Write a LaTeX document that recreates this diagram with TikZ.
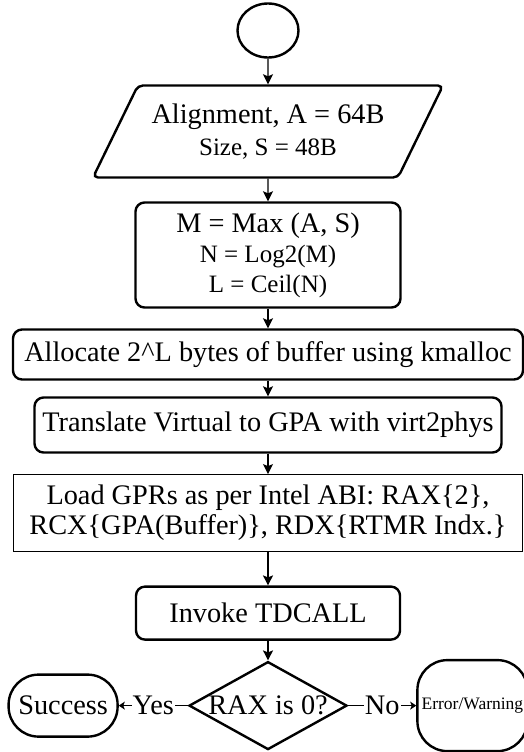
\documentclass[tikz,border=0pt]{standalone}
\usepackage{fontspec}
\setmainfont{Liberation Serif}
\usetikzlibrary{positioning, shapes.geometric, arrows.meta}
\newcommand{\subline}{\fontsize{25}{27}\selectfont}

\begin{document}
\begin{tikzpicture}[x=1pt, y=1pt,
          big/.style={font=\fontsize{28.3}{30}\selectfont},
          b/.style={draw, line width=2.4pt, rounded corners=9pt, big, align=center, inner sep=2pt},
          io/.style={draw, line width=2.4pt, trapezium, trapezium left angle=51, trapezium right angle=129, trapezium stretches body, rounded corners=5pt, big, align=center, inner sep=0pt},
          term/.style={draw, line width=2.4pt, rounded corners=30pt, big, inner sep=0pt},
          arr/.style={-{Stealth[length=10pt, width=10pt, inset=2pt]}, line width=1.4pt},
          yn/.style={-{Stealth[length=6pt, width=8pt, inset=1.5pt]}, line width=1.4pt},
          lbl/.style={fill=white, inner sep=1pt, big}]
        \useasboundingbox (0,0) rectangle (523,-752);
        \node[draw, ellipse, line width=2.4pt, minimum width=61pt, minimum height=54pt] (start) at (268,-30.5) {};
        \node[io, minimum width=350pt, minimum height=92pt, below=25.6pt of start] (align) {Alignment, A = 64B\\[2pt]{\subline Size, S = 48B}};
        \node[b, minimum width=265pt, minimum height=105pt, below=22.6pt of align] (m) {M = Max (A, S)\\{\subline N = Log2(M)}\\{\subline L = Ceil(N)}};
        \node[b, minimum width=510pt, minimum height=50pt, below=19.6pt of m] (alloc) {Allocate 2\^{}L bytes of buffer using kmalloc};
        \node[b, minimum width=467pt, minimum height=55pt, below=15.6pt of alloc] (trans) {Translate Virtual to GPA with virt2phys};
        \node[b, line width=0.9pt, sharp corners, minimum width=509pt, minimum height=77pt, below=20.4pt of trans] (load) {Load GPRs as per Intel ABI: RAX\{2\},\\RCX\{GPA(Buffer)\}, RDX\{RTMR Indx.\}};
        \node[b, minimum width=264pt, minimum height=53pt, below=33.4pt of load] (call) {Invoke TDCALL};
        \node[draw, diamond, line width=2.4pt, minimum width=158pt, minimum height=88pt, inner sep=0pt, below=19.6pt of call, label={[big]center:RAX is 0?}] (dia) {};
        \node[term, minimum width=109pt, minimum height=62pt, left=69pt of dia] (succ) {Success};
        \node[term, minimum width=110pt, minimum height=91pt, right=68pt of dia, font=\fontsize{17.5}{20}\selectfont] (err) {Error/Warning};
        \draw[arr] (start) -- (align);
        \draw[arr] (align) -- (m);
        \draw[arr] (m) -- (alloc);
        \draw[arr] (alloc) -- (trans);
        \draw[arr] (trans) -- (load);
        \draw[arr] (load) -- (call);
        \draw[arr] (call) -- (dia);
        \draw[yn] (dia) -- node[lbl] {Yes} (succ);
        \draw[yn] (dia) -- node[lbl] {No} (err);
      \end{tikzpicture}
\end{document}
